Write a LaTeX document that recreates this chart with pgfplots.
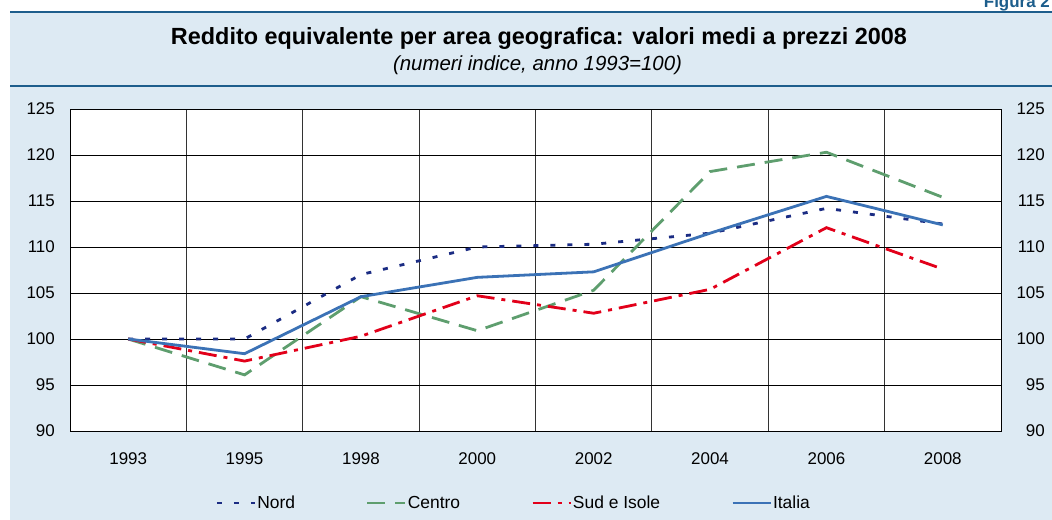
\documentclass[border=0pt]{standalone}
\usepackage{fontspec}
\setmainfont{Liberation Sans}
\usepackage{pgfplots}
\pgfplotsset{compat=1.18}
\definecolor{bgblue}{HTML}{DDEAF3}
\definecolor{figblue}{HTML}{1D5E8C}
\definecolor{nord}{HTML}{1B2C83}
\definecolor{centro}{HTML}{5E9E6E}
\definecolor{sud}{HTML}{E2001A}
\definecolor{italia}{HTML}{3B72B6}
\begin{document}
\begin{tikzpicture}
\useasboundingbox (0,0) rectangle (1052bp,520bp);
\fill[white] (0,0) rectangle (1052bp,520bp);
\fill[bgblue] (10bp,0) rectangle (1052bp,508bp);
\draw[figblue, line width=2.5bp] (10bp,508bp) -- (1052bp,508bp);
\draw[figblue, line width=2bp] (10bp,434bp) -- (1052bp,434bp);
\node[anchor=base east, text=figblue, font=\bfseries\fontsize{17}{20}\selectfont, inner sep=0] at (1050bp,512bp) {Figura 2};
\node[anchor=base, font=\bfseries\fontsize{23.5}{28}\selectfont, inner sep=0] at (539bp,475bp) {Reddito equivalente per area geografica: valori medi a prezzi 2008};
\node[anchor=base, font=\itshape\fontsize{20.5}{24}\selectfont, inner sep=0] at (537.5bp,449bp) {(numeri indice, anno 1993=100)};

\begin{axis}[
  at={(70bp,89bp)}, anchor=south west,
  scale only axis, width=931bp, height=322bp,
  xmin=-0.5, xmax=7.5, ymin=90, ymax=125,
  xtick={0,...,7},
  xticklabels={1993,1995,1998,2000,2002,2004,2006,2008},
  minor xtick={0.5,1.5,...,6.5},
  ytick={90,95,...,125},
  xminorgrids, ymajorgrids,
  grid style={black, line width=0.8bp},
  minor grid style={black!80, line width=0.8bp},
  major tick length=0pt, minor tick length=0pt,
  axis line style={black, line width=0.8bp},
  axis background/.style={fill=white},
  /pgf/number format/assume math mode=true,
  tick label style={font=\fontsize{17}{20}\selectfont},
  xticklabel style={anchor=center, yshift=-28bp},
  yticklabel style={anchor=east, inner sep=0pt, xshift=-15bp},
  legend columns=4,
  legend style={at={(0.476,-0.2236)}, anchor=center, draw=none, fill=none,
    font=\fontsize{17.5}{20}\selectfont,
    nodes={inner xsep=1bp, inner ysep=2bp},
    /tikz/every even column/.append style={column sep=70bp}},
  legend image code/.code={\draw[#1] (0bp,0bp) -- (38bp,0bp);},
]
\addplot[nord, line width=2.8bp, dash pattern=on 5bp off 12bp] coordinates {
 (0,100) (1,100) (2,107.0) (3,110.0) (4,110.3) (5,111.5) (6,114.2) (7,112.5)};
\addlegendentry{Nord}
\addplot[centro, line width=2.8bp, dash pattern=on 18bp off 10bp] coordinates {
 (0,100) (1,96.1) (2,104.6) (3,100.9) (4,105.3) (5,118.2) (6,120.3) (7,115.4)};
\addlegendentry{Centro}
\addplot[sud, line width=2.8bp, dash pattern=on 18bp off 7bp on 4bp off 7bp] coordinates {
 (0,100) (1,97.6) (2,100.3) (3,104.7) (4,102.8) (5,105.4) (6,112.1) (7,107.6)};
\addlegendentry{Sud e Isole}
\addplot[italia, line width=2.8bp] coordinates {
 (0,100) (1,98.4) (2,104.6) (3,106.7) (4,107.3) (5,111.5) (6,115.5) (7,112.4)};
\addlegendentry{Italia}
\end{axis}

\begin{axis}[
  at={(70bp,89bp)}, anchor=south west,
  scale only axis, width=931bp, height=322bp,
  xmin=-0.5, xmax=7.5, ymin=90, ymax=125,
  ytick={90,95,...,125},
  axis y line*=right, axis x line=none,
  axis line style={draw=none},
  major tick length=0pt,
  /pgf/number format/assume math mode=true,
  tick label style={font=\fontsize{17}{20}\selectfont},
  yticklabel style={anchor=east, inner sep=0pt, xshift=44bp},
]
\end{axis}
\end{tikzpicture}
\end{document}
